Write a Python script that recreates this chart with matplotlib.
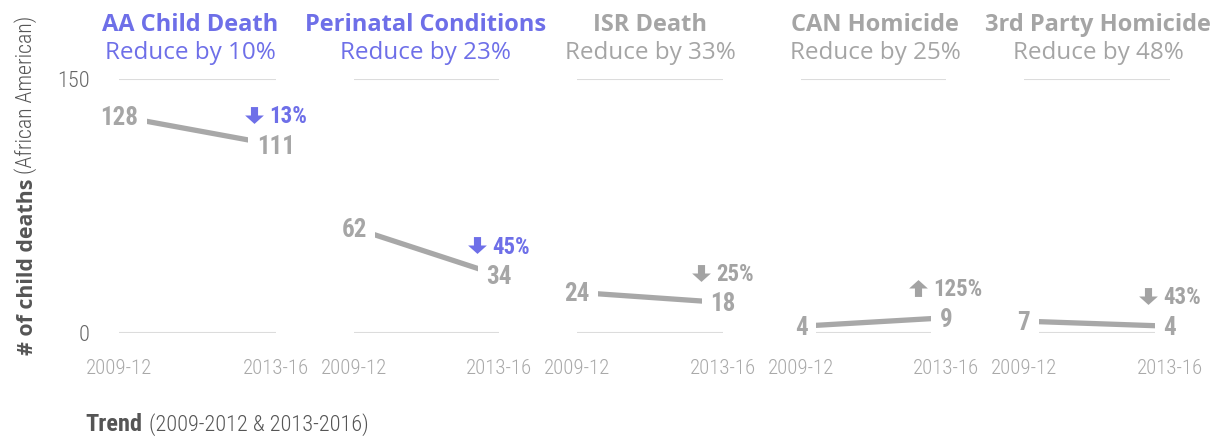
import os
import matplotlib
matplotlib.use('Agg')
import matplotlib.pyplot as plt
from matplotlib import font_manager as fm
from matplotlib.path import Path
from matplotlib.transforms import offset_copy

# data
categories = ['AA Child Death', 'Perinatal Conditions', 'ISR Death', 'CAN Homicide', '3rd Party Homicide']
goals = ['Reduce by 10%', 'Reduce by 23%', 'Reduce by 33%', 'Reduce by 25%', 'Reduce by 48%']
periods = ['2009-12', '2013-16']
deaths_2009_12 = [128, 62, 24, 4, 7]
deaths_2013_16 = [111, 34, 18, 9, 4]
change_labels = ['13%', '45%', '25%', '125%', '43%']
highlighted = [True, True, False, False, False]

BLUE = '#6e6fe8'
GRAY = '#a6a6a6'
LINE = '#a8a8a8'
GRID = '#dcdcdc'
DARK = '#555555'

W, H = 1225, 438
DPI = 100

# layout in pixels (left/right of each small multiple, y of 0 and 150)
panels_px = [(119, 276), (354, 499), (577, 723), (801, 946), (1024, 1170)]
title_x_px = [190, 426, 650, 875, 1098]
y0_px, y150_px = 333, 79


def find_font(bold, light=False):
    """look for a condensed face among the installed fonts"""
    prefs = [('opensans', 'condensed'), ('roboto', 'condensed'), ('notosans', 'condensed'),
             ('liberationsansnarrow',), ('dejavusanscondensed',), ('dejavusans', 'condensed')]
    files = [f.fname for f in fm.fontManager.ttflist]
    for kws in prefs:
        cands = []
        for p in files:
            n = os.path.basename(p).lower().replace('-', '').replace('_', '')
            if not all(k in n for k in kws) or 'italic' in n or 'oblique' in n:
                continue
            isbold = 'bold' in n and 'semibold' not in n and 'extrabold' not in n
            if bold != isbold:
                continue
            if not bold and any(k in n for k in ('semibold', 'extrabold', 'black', 'medium', 'thin')):
                continue
            if 'semicondensed' in n or 'extracondensed' in n:
                continue
            cands.append(p)
        if cands:
            if not bold:
                lights = [c for c in cands if 'light' in c.lower() and 'extralight' not in c.lower()]
                regs = [c for c in cands if 'light' not in c.lower()]
                if light and lights:
                    return lights[0]
                if regs:
                    return regs[0]
            return cands[0]
    return None


def fprops(bold, size, light=False):
    f = find_font(bold, light)
    if f:
        return fm.FontProperties(fname=f, size=size)
    return fm.FontProperties(family='DejaVu Sans', stretch='condensed',
                             weight='bold' if bold else 'normal', size=size)


TITLE = ['Open Sans', 'DejaVu Sans']

fig = plt.figure(figsize=(W / DPI, H / DPI), dpi=DPI)
renderer = fig.canvas.get_renderer()

# arrow markers
dn_verts = [(-0.38, 0.9), (0.38, 0.9), (0.38, 0.0), (1.0, 0.0), (0.0, -0.9), (-1.0, 0.0), (-0.38, 0.0), (-0.38, 0.9)]
codes = [Path.MOVETO] + [Path.LINETO] * 6 + [Path.CLOSEPOLY]
down_arrow = Path(dn_verts, codes)
up_arrow = Path([(x, -y) for x, y in dn_verts], codes)

VAL_FS = 18
PCT_FS = 16.5


def px(pt):
    return pt * DPI / 72.0


for i, cat in enumerate(categories):
    l, r = panels_px[i]
    ax = fig.add_axes([l / W, 1 - y0_px / H, (r - l) / W, (y0_px - y150_px) / H])
    ax.set_xlim(0, 1)
    ax.set_ylim(0, 150)
    for s in ax.spines.values():
        s.set_visible(False)
    ax.set_facecolor('none')
    for yv in (0, 150):
        ax.axhline(yv, color=GRID, lw=1.5, zorder=1)

    ax.set_xticks([0, 1])
    ax.set_xticklabels(periods, fontproperties=fprops(False, 15, light=True), color='#a9a9a9')
    ax.tick_params(axis='x', length=0, pad=19)
    if i == 0:
        ax.set_yticks([0, 150])
        ax.set_yticklabels(['0', '150'], fontproperties=fprops(False, 16, light=True), color='#666666')
        ax.tick_params(axis='y', length=0, pad=21)
    else:
        ax.set_yticks([])

    v0, v1 = deaths_2009_12[i], deaths_2013_16[i]
    ax.plot([0, 1], [v0, v1], color=LINE, lw=3.8, solid_capstyle='butt', zorder=3, clip_on=False)

    # value labels centred on the points, white box hides the line ends
    half_cap = px(VAL_FS) * 0.714 / 2
    for xv, v in zip([0, 1], [v0, v1]):
        tr = offset_copy(ax.transData, fig=fig, x=0, y=-half_cap, units='dots')
        ax.text(xv, v, str(v), transform=tr, ha='center', va='baseline',
                fontproperties=fprops(True, VAL_FS), color=GRAY,
                bbox=dict(boxstyle='square,pad=0.35', fc='white', ec='none'), zorder=5)

    # change indicator above the 2013-16 value
    col = BLUE if highlighted[i] else '#a3a3a3'
    pct_half = px(PCT_FS) * 0.714 / 2
    t = ax.text(1, v1, change_labels[i], ha='left', va='baseline',
                fontproperties=fprops(True, PCT_FS), color=col, zorder=6)
    w = t.get_window_extent(renderer).width
    arrow_w, gap = 17, 7
    group = arrow_w + gap + w
    t.set_transform(offset_copy(ax.transData, fig=fig, x=-group / 2 + arrow_w + gap,
                                y=30 - pct_half, units='dots'))
    ax.plot([1], [v1], marker=up_arrow if v1 > v0 else down_arrow, ms=13.5, color=col,
            mec='none', ls='none', clip_on=False, zorder=6,
            transform=offset_copy(ax.transData, fig=fig, x=-group / 2 + arrow_w / 2,
                                  y=30, units='dots'))

    # titles
    tcol = BLUE if highlighted[i] else '#a5a5a5'
    fig.text(title_x_px[i] / W, 1 - 31 / H, cat, ha='center', va='baseline',
             family=TITLE, fontsize=17, fontweight='bold', color=tcol)
    fig.text(title_x_px[i] / W, 1 - 59 / H, goals[i], ha='center', va='baseline',
             family=TITLE, fontsize=17.5, color=tcol)


def fit(t, target_px, horizontal=True):
    bb = t.get_window_extent(renderer)
    size = bb.width if horizontal else bb.height
    t.set_fontsize(t.get_fontsize() * target_px / size)
    return t.get_window_extent(renderer)


# y axis title in two weights
t1 = fig.text(33 / W, 1 - 355 / H, '# of child deaths', rotation=90, rotation_mode='anchor',
              ha='left', va='baseline', family=TITLE, fontsize=15, fontweight='bold', color=DARK)
bb = fit(t1, 355 - 178, horizontal=False)
t1b = fig.text(32 / W, (bb.y1 + 5) / H, '(African American)', rotation=90, rotation_mode='anchor',
               ha='left', va='baseline', fontproperties=fprops(False, 16, light=True), color=DARK)
fit(t1b, 173 - 15, horizontal=False)

# bottom caption
t2 = fig.text(85 / W, 1 - 431 / H, 'Trend', ha='left', va='baseline',
              fontproperties=fprops(True, 17), color=DARK)
bb = fit(t2, 57)
t3 = fig.text((bb.x1 + 7) / W, 1 - 431 / H, '(2009-2012 & 2013-2016)', ha='left', va='baseline',
              fontproperties=fprops(False, 16, light=True), color=DARK)
fit(t3, 369 - bb.x1 - 7)

fig.savefig('out.png', dpi=DPI)
